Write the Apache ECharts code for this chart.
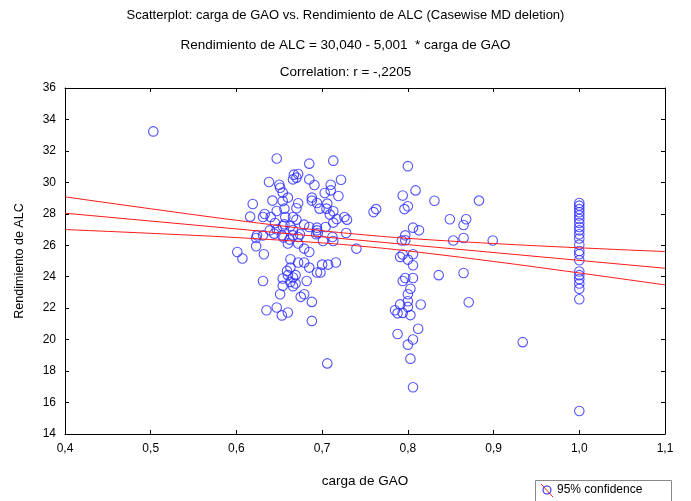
<!DOCTYPE html>
<html>
<head>
<meta charset="utf-8">
<script src="https://cdn.jsdelivr.net/npm/echarts@6/dist/echarts.min.js"></script>
<style>
  html, body { margin: 0; padding: 0; background: #fff; }
  #chart { width: 691px; height: 501px; }
</style>
</head>
<body>
<div id="chart"></div>
<script>
// carga de GAO (x) and Rendimiento de ALC (y), one entry per case
const cargaGAO = [
  0.503,
  0.647, 0.685, 0.713, 0.667, 0.672, 0.666, 0.670, 0.685, 0.691, 0.722,
  0.638, 0.650, 0.651, 0.654, 0.710, 0.703, 0.710, 0.719, 0.660, 0.642,
  0.654, 0.688, 0.688, 0.672, 0.619, 0.694, 0.697, 0.706, 0.705, 0.647,
  0.656, 0.670, 0.713, 0.709, 0.633, 0.631, 0.616, 0.640, 0.657, 0.666,
  0.670, 0.717, 0.726, 0.729, 0.760, 0.763, 0.645, 0.656, 0.654, 0.663,
  0.679, 0.713, 0.639, 0.647, 0.666, 0.685, 0.694, 0.694, 0.704, 0.624,
  0.623, 0.631, 0.644, 0.653, 0.655, 0.666, 0.674, 0.672, 0.662, 0.693,
  0.695, 0.701, 0.712, 0.713, 0.728, 0.660, 0.672, 0.679, 0.685, 0.623,
  0.601, 0.607, 0.632, 0.740, 0.663, 0.672, 0.679, 0.716, 0.700, 0.707,
  0.663, 0.659, 0.685, 0.694, 0.698, 0.654, 0.660, 0.669, 0.666, 0.654,
  0.663, 0.669, 0.666, 0.682, 0.631, 0.651, 0.675, 0.679, 0.688, 0.635,
  0.647, 0.653, 0.660, 0.688, 0.706,
  0.800, 0.809, 0.794, 0.796, 0.800, 0.831, 0.883, 0.849, 0.868, 0.865,
  0.806, 0.813, 0.797, 0.793, 0.797, 0.853, 0.865, 0.899, 0.791, 0.794,
  0.800, 0.806, 0.806, 0.797, 0.794, 0.806, 0.836, 0.865, 0.803, 0.800,
  0.791, 0.800, 0.800, 0.785, 0.788, 0.794, 0.803, 0.815, 0.871, 0.812,
  0.788, 0.806, 0.800, 0.934, 0.803, 0.806,
  1.0, 1.0, 1.0, 1.0, 1.0, 1.0, 1.0, 1.0, 1.0, 1.0, 1.0,
  1.0, 1.0, 1.0, 1.0, 1.0, 1.0, 1.0, 1.0, 1.0, 1.0, 1.0
];
const rendimientoALC = [
  33.24,
  31.52, 31.19, 31.38, 30.49, 30.53, 30.19, 30.30, 30.19, 29.83, 30.17,
  30.02, 29.85, 29.66, 29.35, 29.85, 29.32, 29.49, 29.13, 29.03, 28.84,
  28.81, 29.03, 28.84, 28.67, 28.62, 28.69, 28.33, 28.65, 28.33, 28.18,
  28.33, 28.35, 28.16, 27.95, 27.99, 27.80, 27.82, 27.80, 27.80, 27.80,
  27.63, 27.67, 27.80, 27.63, 28.11, 28.30, 27.42, 27.33, 27.21, 27.23,
  27.31, 27.44, 26.95, 27.02, 26.97, 27.16, 27.12, 26.95, 27.16, 26.63,
  26.46, 26.63, 26.74, 26.63, 26.49, 26.63, 26.70, 26.53, 26.36, 26.70,
  26.78, 26.27, 26.53, 26.27, 26.78, 26.11, 26.11, 25.79, 25.57, 25.94,
  25.57, 25.16, 25.43, 25.79, 25.11, 24.90, 24.90, 24.90, 24.77, 24.77,
  24.58, 24.37, 24.58, 24.27, 24.27, 23.89, 24.10, 24.10, 23.95, 23.42,
  23.67, 23.57, 23.40, 23.73, 23.73, 22.89, 22.72, 22.89, 22.40, 21.87,
  22.04, 21.54, 21.73, 21.19, 18.49,
  31.03, 29.49, 29.16, 28.30, 28.48, 28.83, 28.84, 27.65, 27.65, 27.29,
  27.12, 26.95, 26.63, 26.30, 26.32, 26.30, 26.46, 26.30, 25.26, 25.41,
  25.09, 25.43, 24.73, 23.92, 23.73, 23.92, 24.10, 24.24, 23.24, 22.89,
  22.24, 22.44, 22.08, 21.87, 21.67, 21.70, 21.56, 22.23, 22.38, 20.69,
  20.36, 20.01, 19.68, 19.84, 18.79, 16.97,
  28.69, 28.52, 28.30, 28.10, 27.89, 27.67, 27.42, 27.16, 26.95, 26.70, 26.43,
  26.04, 25.64, 25.43, 25.05, 24.33, 24.10, 23.86, 23.57, 23.23, 22.57, 15.46
];

// Fitted line: Rendimiento de ALC = 30,040 - 5,001 * carga de GAO
const intercept = 30.040;
const slope = -5.001;

// 95% confidence band around the fitted line
const bandX     = [0.4,   0.5,   0.6,   0.7,   0.75,  0.8,   0.9,   1.0,   1.1];
const bandUpper = [29.08, 28.32, 27.59, 26.93, 26.66, 26.44, 26.11, 25.84, 25.60];
const bandLower = [27.00, 26.76, 26.49, 26.15, 25.92, 25.64, 24.97, 24.24, 23.48];

// Axis ranges and ticks
const xMin = 0.4, xMax = 1.1, xStep = 0.1;
const yMin = 14, yMax = 36, yStep = 2;

const points = cargaGAO.map((x, i) => [x, rendimientoALC[i]]);
const fitLine = [xMin, xMax].map(x => [x, intercept + slope * x]);
const upper = bandX.map((x, i) => [x, bandUpper[i]]);
const lower = bandX.map((x, i) => [x, bandLower[i]]);

const fmtX = v => v.toFixed(1).replace('.', ',');
const font = 'Liberation Sans, Arial, sans-serif';
const markerBlue = '#2a2aff';
const lineRed = '#ff1a1a';

const chart = echarts.init(document.getElementById('chart'), null, { renderer: 'canvas' });

const frameAxis = {
  axisLine: { show: true, lineStyle: { color: '#000', width: 1 } },
  axisTick: { show: true, inside: true, length: 4, lineStyle: { color: '#000' } },
  splitLine: { show: false }
};

const titleStyle = size => ({ fontFamily: font, fontSize: size, fontWeight: 'normal', color: '#000' });

chart.setOption({
  animation: false,
  backgroundColor: '#fff',
  title: [
    { text: 'Scatterplot: carga de GAO vs. Rendimiento de ALC (Casewise MD deletion)', left: 'center', top: 4,
      textStyle: titleStyle(13) },
    { text: 'Rendimiento de ALC = 30,040 - 5,001  * carga de GAO', left: 'center', top: 33,
      textStyle: titleStyle(13.5) },
    { text: 'Correlation: r = -,2205', left: 'center', top: 60,
      textStyle: titleStyle(13.5) }
  ],
  grid: { left: 65, right: 26, top: 88, bottom: 67, containLabel: false },
  xAxis: [
    Object.assign({
      type: 'value', min: xMin, max: xMax, interval: xStep, position: 'bottom',
      name: 'carga de GAO', nameLocation: 'middle', nameGap: 40,
      nameTextStyle: { fontFamily: font, fontSize: 13.5, color: '#000' },
      axisLabel: { formatter: fmtX, fontFamily: font, fontSize: 12, color: '#000', margin: 9 }
    }, frameAxis),
    Object.assign({
      type: 'value', min: xMin, max: xMax, interval: xStep, position: 'top',
      axisLabel: { show: false }
    }, frameAxis)
  ],
  yAxis: [
    Object.assign({
      type: 'value', min: yMin, max: yMax, interval: yStep, position: 'left',
      name: 'Rendimiento de ALC', nameLocation: 'middle', nameGap: 39, nameRotate: 90,
      nameTextStyle: { fontFamily: font, fontSize: 12.5, color: '#000' },
      axisLabel: { fontFamily: font, fontSize: 12, color: '#000', margin: 9 }
    }, frameAxis),
    Object.assign({
      type: 'value', min: yMin, max: yMax, interval: yStep, position: 'right',
      axisLabel: { show: false }
    }, frameAxis)
  ],
  series: [
    {
      name: 'cases', type: 'scatter', data: points,
      symbol: 'circle', symbolSize: 9.5,
      itemStyle: { color: 'rgba(0,0,0,0)', borderColor: markerBlue, borderWidth: 1.1 },
      z: 2
    },
    {
      name: 'fit', type: 'line', data: fitLine, showSymbol: false,
      lineStyle: { color: lineRed, width: 1 }, z: 3
    },
    {
      name: 'upper 95%', type: 'line', data: upper, showSymbol: false, smooth: 0.4,
      lineStyle: { color: lineRed, width: 1 }, z: 3
    },
    {
      name: 'lower 95%', type: 'line', data: lower, showSymbol: false, smooth: 0.4,
      lineStyle: { color: lineRed, width: 1 }, z: 3
    }
  ],
  graphic: [
    { type: 'rect', left: 535, top: 480, shape: { width: 136, height: 24 },
      style: { fill: '#fff', stroke: '#888', lineWidth: 1 } },
    { type: 'line', shape: { x1: 541, y1: 484, x2: 553, y2: 497 },
      style: { stroke: lineRed, lineWidth: 1 } },
    { type: 'circle', shape: { cx: 547, cy: 490, r: 4 },
      style: { fill: 'rgba(0,0,0,0)', stroke: markerBlue, lineWidth: 1.1 } },
    { type: 'text', left: 557, top: 484,
      style: { text: '95% confidence', fontFamily: font, fontSize: 12, fill: '#000' } }
  ]
});
</script>
</body>
</html>
